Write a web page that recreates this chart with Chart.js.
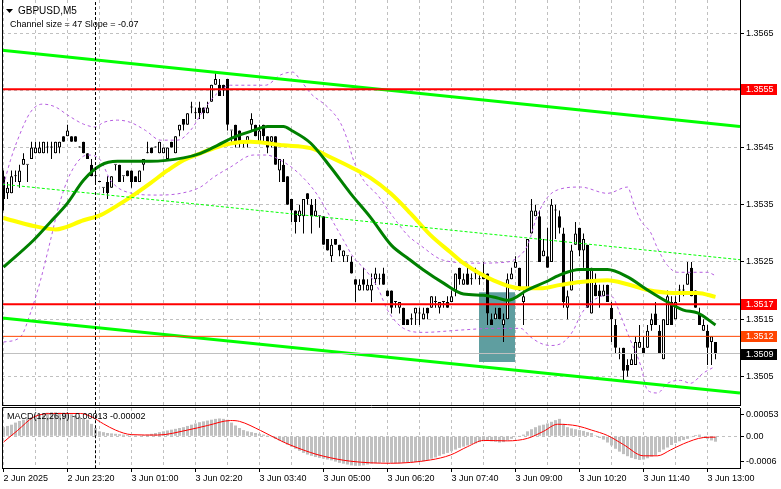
<!DOCTYPE html>
<html>
<head>
<meta charset="utf-8">
<script src="https://cdn.jsdelivr.net/npm/chart.js@4.4.1/dist/chart.umd.min.js"></script>
<style>
html, body { margin: 0; padding: 0; background: #fff; }
#wrap { position: relative; width: 781px; height: 489px; overflow: hidden; background: #fff; }
canvas { position: absolute; left: 0; }
#price { top: 0; }
#macd { top: 406px; }
</style>
</head>
<body>
<div id="wrap">
  <canvas id="price" width="781" height="406"></canvas>
  <canvas id="macd" width="781" height="83"></canvas>
</div>
<script>
// GBPUSD M5 bars
const opens = [
  1.3540,1.3537,1.3537,1.3540,1.3539,1.3542,1.3542,1.3543,1.3544,1.3544,
  1.3544,1.3545,1.3545,1.3544,1.3545,1.3547,1.3547,1.3547,1.3547,1.3545,
  1.3546,1.3544,1.3542,1.3540,1.3539,1.3538,1.3539,1.3538,1.3542,1.3542,
  1.3540,1.3541,1.3541,1.3540,1.3539,1.3542,1.3544,1.3545,1.3545,1.3544,
  1.3544,1.3543,1.3546,1.3544,1.3548,1.3550,1.3549,1.3552,1.3551,1.3552,
  1.3552,1.3551,1.3553,1.3556,1.3556,1.3556,1.3557,1.3548,1.3549,1.3548,
  1.3546,1.3546,1.3549,1.3549,1.3546,1.3549,1.3547,1.3546,1.3547,1.3541,
  1.3542,1.3540,1.3536,1.3534,1.3533,1.3533,1.3537,1.3535,1.3533,1.3533,
  1.3533,1.3529,1.3526,1.3529,1.3528,1.3526,1.3526,1.3525,1.3522,1.3520,
  1.3522,1.3520,1.3520,1.3522,1.3522,1.3523,1.3520,1.3520,1.3518,1.3517,
  1.3517,1.3515,1.3515,1.3516,1.3516,1.3515,1.3517,1.3517,1.3518,1.3517,
  1.3518,1.3518,1.3518,1.3520,1.3524,1.3521,1.3523,1.3522,1.3523,1.3522,
  1.3523,1.3523,1.3515,1.3515,1.3517,1.3514,1.3515,1.3522,1.3524,1.3524,
  1.3518,1.3520,1.3530,1.3533,1.3533,1.3526,1.3526,1.3525,1.3534,1.3533,
  1.3530,1.3517,1.3520,1.3528,1.3531,1.3527,1.3528,1.3516,1.3521,1.3520,
  1.3519,1.3521,1.3517,1.3514,1.3509,1.3510,1.3507,1.3507,1.3507,1.3510,
  1.3510,1.3510,1.3514,1.3516,1.3513,1.3508,1.3514,1.3518,1.3515,1.3520,
  1.3520,1.3521,1.3524,1.3520,1.3516,1.3513,1.3513,1.3511,1.3511
];
const highs = [
  1.3541,1.3539,1.3541,1.3541,1.3542,1.3544,1.3542,1.3546,1.3546,1.3546,
  1.3546,1.3546,1.3546,1.3546,1.3546,1.3547,1.3549,1.3547,1.3547,1.3545,
  1.3546,1.3544,1.3543,1.3541,1.3539,1.3538,1.3540,1.3540,1.3542,1.3542,
  1.3540,1.3541,1.3541,1.3540,1.3541,1.3543,1.3546,1.3545,1.3545,1.3546,
  1.3545,1.3545,1.3546,1.3547,1.3549,1.3550,1.3551,1.3553,1.3552,1.3553,
  1.3552,1.3553,1.3556,1.3558,1.3557,1.3556,1.3557,1.3548,1.3549,1.3548,
  1.3546,1.3547,1.3551,1.3549,1.3549,1.3549,1.3547,1.3547,1.3547,1.3543,
  1.3543,1.3540,1.3536,1.3534,1.3535,1.3536,1.3537,1.3536,1.3536,1.3533,
  1.3533,1.3529,1.3529,1.3529,1.3528,1.3527,1.3526,1.3526,1.3522,1.3522,
  1.3524,1.3522,1.3523,1.3524,1.3523,1.3524,1.3520,1.3520,1.3518,1.3518,
  1.3517,1.3515,1.3516,1.3517,1.3517,1.3517,1.3517,1.3519,1.3519,1.3518,
  1.3518,1.3519,1.3520,1.3523,1.3524,1.3523,1.3524,1.3523,1.3524,1.3523,
  1.3525,1.3523,1.3516,1.3517,1.3517,1.3516,1.3523,1.3524,1.3526,1.3524,
  1.3520,1.3529,1.3536,1.3535,1.3534,1.3529,1.3531,1.3536,1.3535,1.3534,
  1.3531,1.3520,1.3528,1.3532,1.3531,1.3530,1.3528,1.3524,1.3523,1.3521,
  1.3521,1.3521,1.3518,1.3515,1.3510,1.3510,1.3508,1.3509,1.3512,1.3514,
  1.3512,1.3514,1.3516,1.3518,1.3514,1.3515,1.3520,1.3519,1.3519,1.3521,
  1.3521,1.3525,1.3525,1.3520,1.3517,1.3515,1.3514,1.3512,1.3511
];
const lows = [
  1.3534,1.3536,1.3537,1.3539,1.3538,1.3542,1.3539,1.3543,1.3544,1.3544,
  1.3544,1.3544,1.3543,1.3544,1.3544,1.3546,1.3547,1.3546,1.3546,1.3545,
  1.3544,1.3543,1.3540,1.3539,1.3539,1.3537,1.3536,1.3538,1.3541,1.3539,
  1.3539,1.3540,1.3538,1.3539,1.3539,1.3541,1.3544,1.3544,1.3545,1.3544,
  1.3544,1.3543,1.3545,1.3544,1.3547,1.3548,1.3549,1.3551,1.3550,1.3550,
  1.3550,1.3551,1.3553,1.3556,1.3554,1.3554,1.3548,1.3546,1.3545,1.3545,
  1.3545,1.3545,1.3548,1.3547,1.3546,1.3546,1.3544,1.3545,1.3542,1.3539,
  1.3539,1.3535,1.3532,1.3530,1.3532,1.3530,1.3535,1.3530,1.3533,1.3531,
  1.3528,1.3527,1.3525,1.3528,1.3526,1.3525,1.3525,1.3523,1.3518,1.3520,
  1.3520,1.3520,1.3518,1.3521,1.3521,1.3521,1.3519,1.3516,1.3517,1.3516,
  1.3514,1.3514,1.3514,1.3514,1.3514,1.3515,1.3515,1.3517,1.3517,1.3516,
  1.3517,1.3517,1.3518,1.3519,1.3521,1.3521,1.3521,1.3521,1.3522,1.3521,
  1.3522,1.3514,1.3514,1.3515,1.3515,1.3511,1.3515,1.3522,1.3524,1.3520,
  1.3514,1.3520,1.3530,1.3533,1.3525,1.3526,1.3524,1.3525,1.3529,1.3530,
  1.3517,1.3515,1.3520,1.3528,1.3526,1.3524,1.3517,1.3516,1.3519,1.3517,
  1.3519,1.3518,1.3511,1.3509,1.3508,1.3504,1.3505,1.3507,1.3507,1.3510,
  1.3509,1.3510,1.3513,1.3514,1.3509,1.3508,1.3514,1.3514,1.3515,1.3518,
  1.3519,1.3521,1.3519,1.3517,1.3514,1.3513,1.3507,1.3507,1.3508
];
const closes = [
  1.3536,1.3538,1.3540,1.3540,1.3541,1.3543,1.3542,1.3545,1.3545,1.3545,
  1.3546,1.3545,1.3545,1.3546,1.3546,1.3546,1.3548,1.3546,1.3546,1.3545,
  1.3544,1.3543,1.3540,1.3540,1.3539,1.3538,1.3537,1.3540,1.3542,1.3539,
  1.3540,1.3540,1.3539,1.3539,1.3541,1.3543,1.3544,1.3544,1.3545,1.3546,
  1.3545,1.3545,1.3545,1.3547,1.3549,1.3549,1.3551,1.3552,1.3551,1.3551,
  1.3551,1.3552,1.3556,1.3557,1.3554,1.3555,1.3549,1.3548,1.3546,1.3546,
  1.3546,1.3547,1.3550,1.3547,1.3548,1.3547,1.3545,1.3547,1.3542,1.3543,
  1.3539,1.3535,1.3534,1.3532,1.3534,1.3536,1.3536,1.3533,1.3534,1.3533,
  1.3528,1.3527,1.3528,1.3528,1.3527,1.3527,1.3526,1.3523,1.3521,1.3521,
  1.3521,1.3521,1.3521,1.3523,1.3522,1.3521,1.3519,1.3517,1.3518,1.3518,
  1.3514,1.3514,1.3515,1.3517,1.3516,1.3516,1.3516,1.3519,1.3518,1.3518,
  1.3518,1.3517,1.3519,1.3523,1.3522,1.3522,1.3521,1.3522,1.3523,1.3522,
  1.3522,1.3516,1.3514,1.3516,1.3515,1.3515,1.3522,1.3523,1.3525,1.3520,
  1.3519,1.3529,1.3534,1.3534,1.3525,1.3527,1.3524,1.3535,1.3534,1.3531,
  1.3518,1.3519,1.3527,1.3530,1.3527,1.3529,1.3517,1.3524,1.3519,1.3519,
  1.3520,1.3518,1.3515,1.3510,1.3509,1.3506,1.3506,1.3508,1.3511,1.3511,
  1.3509,1.3513,1.3515,1.3514,1.3509,1.3515,1.3519,1.3514,1.3518,1.3520,
  1.3520,1.3523,1.3519,1.3517,1.3514,1.3514,1.3510,1.3512,1.3509
];

// moving averages and bands as [bar, price]
const maGreen = [[0,1.35241],[7.5,1.35288],[11.75,1.35320],[16,1.35353],[20,1.35393],[24.25,1.35419],
  [28.5,1.35426],[36.75,1.35426],[45,1.35432],[49.25,1.35440],[53.5,1.35454],[57.5,1.35468],[62.5,1.35480],
  [66,1.35487],[70,1.35487],[72,1.35480],[76.75,1.35458],[81.75,1.35416],[86.75,1.35370],[91.75,1.35328],
  [97,1.35279],[101,1.35257],[105,1.35236],[110,1.35213],[115,1.35194],[120,1.35192],[123.5,1.35187],
  [126,1.35183],[131,1.35201],[135.5,1.35215],[139,1.35227],[144,1.35237],[151,1.35237],[156,1.35224],
  [161,1.35201],[166,1.35180],[170,1.35166],[173.5,1.35161],[178,1.35140]];
const maYellow = [[0,1.35327],[7.5,1.35313],[13,1.35307],[20,1.35323],[24.25,1.35332],[28.5,1.35349],
  [32.5,1.35367],[36.75,1.35388],[41,1.35410],[45,1.35428],[49.25,1.35440],[53.5,1.35451],[57.5,1.35458],
  [61.75,1.35460],[70,1.35454],[76.75,1.35449],[81.75,1.35433],[86.75,1.35416],[91.75,1.35397],
  [96.75,1.35370],[101.75,1.35335],[106.75,1.35297],[111.75,1.35267],[115,1.35248],[122.5,1.35218],
  [129.25,1.35204],[134.25,1.35204],[139.25,1.35210],[144.25,1.35215],[151,1.35218],[156,1.35211],
  [161,1.35201],[167.5,1.35196],[173.5,1.35196],[178,1.35189]];
const bandUpper = [[0,1.35384],[1.75,1.35428],[3.5,1.35463],[6.75,1.35512],[9.75,1.35526],[13,1.35521],
  [16,1.35507],[20,1.35491],[23,1.35486],[25,1.35494],[28.5,1.35498],[31.75,1.35494],[35.5,1.35480],
  [39.25,1.35463],[43.5,1.35463],[46.75,1.35480],[50,1.35515],[53,1.35542],[56.75,1.35559],[61.75,1.35559],
  [65.5,1.35559],[69.25,1.35577],[72.25,1.35582],[74.25,1.35568],[76.75,1.35545],[81,1.35521],[84.25,1.35493],
  [86,1.35463],[87.5,1.35428],[90,1.35393],[93.5,1.35367],[97.5,1.35328],[101,1.35297],[104.25,1.35279],
  [110,1.35253],[118.5,1.35248],[126,1.35250],[129.25,1.35262],[131,1.35279],[133.5,1.35332],[136,1.35363],
  [138.5,1.35376],[144.25,1.35381],[151,1.35370],[156,1.35381],[157.5,1.35353],[159.25,1.35323],
  [161.75,1.35302],[163.5,1.35274],[166,1.35244],[168.5,1.35232],[176,1.35232],[177.75,1.35227]];
const bandLower = [[0,1.35110],[4.25,1.35119],[6.75,1.35161],[9.25,1.35218],[11.75,1.35288],[13.75,1.35346],
  [16.75,1.35405],[21,1.35437],[24.25,1.35428],[26.75,1.35393],[31,1.35372],[38.5,1.35367],[44.25,1.35370],
  [49.25,1.35381],[52.5,1.35398],[56.75,1.35416],[62.5,1.35437],[65.5,1.35437],[70,1.35425],[74.25,1.35402],
  [78.5,1.35367],[81.75,1.35328],[85,1.35288],[87.5,1.35258],[90.5,1.35236],[93.5,1.35206],[96,1.35166],
  [100,1.35134],[105,1.35127],[114.25,1.35131],[122.5,1.35134],[129.25,1.35134],[131.75,1.35119],
  [134.25,1.35108],[136.75,1.35104],[140,1.35110],[142.5,1.35131],[144.25,1.35157],[147.5,1.35183],
  [151,1.35192],[152.5,1.35187],[154.25,1.35157],[156.75,1.35113],[159.25,1.35070],[161,1.35026],
  [163.5,1.35021],[166,1.35038],[169.25,1.35043],[171.75,1.35038],[175,1.35056],[177.25,1.35065]];

// regression channel ends (left edge, right edge)
const channelUpper = [1.35620, 1.35487];
const channelMiddle = [1.35386, 1.35254];
const channelLower = [1.35152, 1.35021];

const levelPrices = [1.35552, 1.35176, 1.35120, 1.35090];
const levelLabels = ["1.3555", "1.3517", "1.3512", "1.3509"];
const zonePrices = [1.35075, 1.35197];
const zoneBar = 123.375;
const separatorBar = 23;

const priceTicks = [1.3505, 1.3515, 1.3525, 1.3535, 1.3545, 1.3555, 1.3565];
const gridBars = [0, 8, 16, 24, 32, 40, 48, 56, 64, 72, 80, 88, 96, 104, 112, 120, 128, 136, 144, 152, 160, 168, 176];
const labelBars = [0, 16, 32, 48, 64, 80, 96, 112, 128, 144, 160, 176];
const timeLabels = ["2 Jun 2025", "2 Jun 23:20", "3 Jun 01:00", "3 Jun 02:20", "3 Jun 03:40", "3 Jun 05:00",
  "3 Jun 06:20", "3 Jun 07:40", "3 Jun 09:00", "3 Jun 10:20", "3 Jun 11:40", "3 Jun 13:00"];

// MACD(12,26,9)
const macdHist = [
  0.00022,0.00025,0.00028,0.00033,0.00037,0.00040,0.00043,0.00046,0.00050,0.00053,
  0.00056,0.00057,0.00058,0.00058,0.00057,0.00057,0.00055,0.00053,0.00050,0.00047,
  0.00044,0.00040,0.00030,0.00020,0.00012,0.00010,0.00008,0.00007,0.00006,0.00005,
  0.00004,0.00003,0.00002,0.00002,0.00002,0.00003,0.00004,0.00006,0.00008,0.00010,
  0.00012,0.00014,0.00016,0.00018,0.00020,0.00022,0.00025,0.00028,0.00031,0.00034,
  0.00036,0.00038,0.00040,0.00042,0.00043,0.00042,0.00040,0.00033,0.00026,0.00020,
  0.00015,0.00012,0.00010,0.00008,0.00006,0.00004,0.00002,-0.00002,-0.00006,-0.00010,
  -0.00014,-0.00020,-0.00025,-0.00030,-0.00035,-0.00040,-0.00044,-0.00047,-0.00050,-0.00052,
  -0.00054,-0.00056,-0.00058,-0.00061,-0.00064,-0.00066,-0.00068,-0.00070,-0.00071,-0.00071,
  -0.00070,-0.00068,-0.00066,-0.00065,-0.00064,-0.00063,-0.00063,-0.00064,-0.00065,-0.00065,
  -0.00064,-0.00063,-0.00063,-0.00062,-0.00061,-0.00060,-0.00057,-0.00054,-0.00051,-0.00047,
  -0.00043,-0.00040,-0.00036,-0.00032,-0.00028,-0.00025,-0.00022,-0.00019,-0.00017,-0.00014,
  -0.00012,-0.00011,-0.00012,-0.00013,-0.00015,-0.00014,-0.00010,-0.00006,-0.00002,0.00001,
  0.00004,0.00012,0.00017,0.00022,0.00026,0.00028,0.00031,0.00035,0.00039,0.00042,
  0.00030,0.00022,0.00019,0.00017,0.00015,0.00013,0.00010,0.00008,0.00002,-0.00004,
  -0.00008,-0.00015,-0.00022,-0.00030,-0.00037,-0.00043,-0.00048,-0.00052,-0.00055,-0.00057,
  -0.00056,-0.00053,-0.00049,-0.00045,-0.00038,-0.00032,-0.00027,-0.00021,-0.00016,-0.00012,
  -0.00009,-0.00006,-0.00002,0.00003,0.00004,-0.00004,-0.00006,-0.00010,-0.00013
];
const macdSignal = [[0,-0.00014],[3.5,0.00014],[7.5,0.00046],[12.5,0.00055],[19.25,0.00055],[22,0.00047],
  [25,0.00030],[28,0.00015],[32,0.00004],[38.5,0.00003],[46,0.00015],[51,0.00026],[56.75,0.00038],
  [59,0.00036],[64.25,0.00014],[70,-0.00014],[76.75,-0.00039],[80,-0.00048],[86.75,-0.00060],
  [96.75,-0.00065],[106.75,-0.00057],[111.75,-0.00045],[116,-0.00025],[120,-0.00010],[126,-0.00011],
  [131,-0.00005],[135,0.00012],[138.5,0.00029],[143.5,0.00025],[147,0.00015],[151,0.00002],
  [155,-0.00020],[160,-0.00047],[163.5,-0.00047],[166.75,-0.00033],[170,-0.00018],[175,-0.00003],[178,-0.00002]];
const macdTicks = [0.00053, 0, -0.0006];
const macdTickLabels = ["0.00053", "0.00", "-0.0006"];

// ---- styling ----
Chart.defaults.font.family = "Liberation Sans";
Chart.defaults.font.size = 9;
Chart.defaults.color = "#000";
Chart.defaults.animation = false;
Chart.defaults.plugins.legend.display = false;
Chart.defaults.plugins.tooltip.enabled = false;

const X_MIN = -0.375, X_MAX = 184.125;
const GRID = "#c0c0c0";
const levelColors = ["#ff0000", "#ff0000", "#ff4500", "#c0c0c0"];
const levelWidths = [2, 2, 1, 1];
const levelBoxColors = ["#ff0000", "#ff0000", "#ff4500", "#000000"];

const bars = opens.map((_, i) => i);
const pts = arr => arr.map(p => ({x: p[0], y: p[1]}));
const seg = v => [{x: X_MIN, y: v[0]}, {x: X_MAX, y: v[1]}];

// keep the plot area exactly where the terminal draws it
const noPad = s => { s.paddingTop = 0; s.paddingBottom = 0; s.paddingLeft = 0; s.paddingRight = 0; };

function timeAxis(withLabels) {
  return {
    type: "linear", min: X_MIN, max: X_MAX, offset: false,
    afterBuildTicks: s => { s.ticks = gridBars.map(v => ({value: v})); },
    afterFit: s => { s.height = withLabels ? 21 : 1; noPad(s); },
    grid: {
      offset: false, color: GRID, drawTicks: withLabels, tickLength: 4,
      tickColor: c => (c.tick && labelBars.includes(c.tick.value)) ? "#000" : "rgba(0,0,0,0)"
    },
    border: {display: true, color: "#000", dash: [3, 3]},
    ticks: {
      display: withLabels, autoSkip: false, maxRotation: 0, minRotation: 0, align: "start", padding: 1,
      callback: v => { const k = labelBars.indexOf(v); return k >= 0 ? timeLabels[k] : ""; }
    }
  };
}

const line = (data, color, width, extra) => Object.assign({
  type: "line", data, borderColor: color, borderWidth: width, pointRadius: 0,
  fill: false, cubicInterpolationMode: "monotone"
}, extra || {});

const priceDecor = {
  id: "priceDecor",
  afterDraw(chart) {
    const {ctx, chartArea: a, scales: {y}} = chart;
    ctx.save();
    ctx.strokeStyle = "#000";
    ctx.lineWidth = 1;
    ctx.beginPath();
    ctx.moveTo(a.left + 0.5, a.top);
    ctx.lineTo(a.left + 0.5, a.bottom);
    ctx.stroke();
    ctx.font = "9px 'Liberation Sans'";
    ctx.textBaseline = "middle";
    levelPrices.forEach((p, k) => {
      const py = Math.round(y.getPixelForValue(p));
      ctx.fillStyle = levelBoxColors[k];
      ctx.fillRect(a.right + 1, py - 5, 36, 11);
      ctx.fillStyle = "#fff";
      ctx.fillText(levelLabels[k], a.right + 6, py + 0.5);
    });
    // header
    ctx.fillStyle = "#000";
    ctx.beginPath();
    ctx.moveTo(6, 9); ctx.lineTo(13, 9); ctx.lineTo(9.5, 13); ctx.closePath();
    ctx.fill();
    ctx.textBaseline = "alphabetic";
    ctx.font = "10px 'Liberation Sans'";
    ctx.fillText("GBPUSD,M5", 18, 14);
    ctx.font = "9px 'Liberation Sans'";
    ctx.fillText("Channel size = 47 Slope = -0.07", 10, 27);
    ctx.restore();
  }
};

new Chart(document.getElementById("price"), {
  type: "line",
  data: {
    datasets: [
      line([{x: separatorBar, y: 1.3500}, {x: separatorBar, y: 1.3571}], "#000", 1, {borderDash: [3, 2], order: 1, cubicInterpolationMode: "default"}),
      ...levelPrices.map((p, k) => line(seg([p, p]), levelColors[k], levelWidths[k], {order: 5, clip: 0})),
      line(seg(channelUpper), "#00ff00", 3, {order: 10, clip: 0}),
      line(seg(channelLower), "#00ff00", 3, {order: 10, clip: 0}),
      line(seg(channelMiddle), "#00ff00", 1, {borderDash: [3, 2], order: 11, clip: 0}),
      line(pts(maGreen), "#008000", 3, {order: 20}),
      line(pts(maYellow), "#ffff00", 4, {order: 21}),
      line(pts(bandUpper), "#b65ee0", 1, {borderDash: [3, 3], order: 22}),
      line(pts(bandLower), "#b65ee0", 1, {borderDash: [3, 3], order: 22}),
      {
        type: "bar", order: 30, grouped: false,
        data: bars.map(i => ({x: i, y: [opens[i], closes[i]]})),
        backgroundColor: bars.map(i => closes[i] >= opens[i] ? "#ffffff" : "#000000"),
        borderColor: "#000", borderWidth: 1, borderSkipped: false,
        barThickness: 3, minBarLength: 1, inflateAmount: 0
      },
      {
        type: "bar", order: 31, grouped: false,
        data: bars.map(i => ({x: i, y: [lows[i], highs[i]]})),
        backgroundColor: "#000", borderWidth: 0, barThickness: 1, minBarLength: 1, inflateAmount: 0
      },
      {
        type: "bar", order: 40, grouped: false,
        data: [{x: zoneBar, y: zonePrices}],
        backgroundColor: "#5f9ea0", borderWidth: 0, barThickness: 36, inflateAmount: 0
      }
    ]
  },
  options: {
    responsive: false,
    layout: {padding: {left: 2, top: 0, right: 0, bottom: 0}},
    scales: {
      x: timeAxis(false),
      y: {
        type: "linear", position: "right", min: 1.3500, max: 1.35708,
        afterBuildTicks: s => { s.ticks = priceTicks.map(v => ({value: v})); },
        afterFit: s => { s.width = 41; noPad(s); },
        grid: {color: GRID, tickLength: 4, tickColor: "#000"},
        border: {display: true, color: "#000", dash: [3, 3]},
        ticks: {autoSkip: false, padding: 2, callback: v => v.toFixed(4)}
      }
    }
  },
  plugins: [priceDecor]
});

const macdDecor = {
  id: "macdDecor",
  afterDraw(chart) {
    const {ctx, chartArea: a} = chart;
    ctx.save();
    ctx.strokeStyle = "#000";
    ctx.lineWidth = 1;
    ctx.beginPath();
    ctx.moveTo(a.left + 0.5, a.bottom);
    ctx.lineTo(a.left + 0.5, a.top - 0.5);
    ctx.lineTo(a.right, a.top - 0.5);
    ctx.stroke();
    ctx.font = "9px 'Liberation Sans'";
    ctx.fillStyle = "#000";
    ctx.fillText("MACD(12,26,9) -0.00013 -0.00002", 7, 13);
    ctx.restore();
  }
};

new Chart(document.getElementById("macd"), {
  type: "line",
  data: {
    datasets: [
      line([{x: separatorBar, y: -0.00077}, {x: separatorBar, y: 0.00069}], "#000", 1, {borderDash: [3, 2], order: 1, cubicInterpolationMode: "default"}),
      line(pts(macdSignal), "#ff0000", 1, {order: 2}),
      {
        type: "bar", order: 3, grouped: false,
        data: bars.map(i => ({x: i, y: macdHist[i]})),
        backgroundColor: "#c0c0c0", borderWidth: 0, barThickness: 3, inflateAmount: 0
      }
    ]
  },
  options: {
    responsive: false,
    layout: {padding: {left: 2, top: 2, right: 0, bottom: 0}},
    scales: {
      x: timeAxis(true),
      y: {
        type: "linear", position: "right", min: -0.000764, max: 0.000682,
        afterBuildTicks: s => { s.ticks = macdTicks.map(v => ({value: v})); },
        afterFit: s => { s.width = 41; noPad(s); },
        grid: {color: c => (c.tick && c.tick.value === 0) ? GRID : "rgba(0,0,0,0)", tickLength: 4, tickColor: "#000"},
        border: {display: true, color: "#000", dash: [3, 3]},
        ticks: {autoSkip: false, padding: 2, callback: v => macdTickLabels[macdTicks.indexOf(v)]}
      }
    }
  },
  plugins: [macdDecor]
});
</script>
</body>
</html>
